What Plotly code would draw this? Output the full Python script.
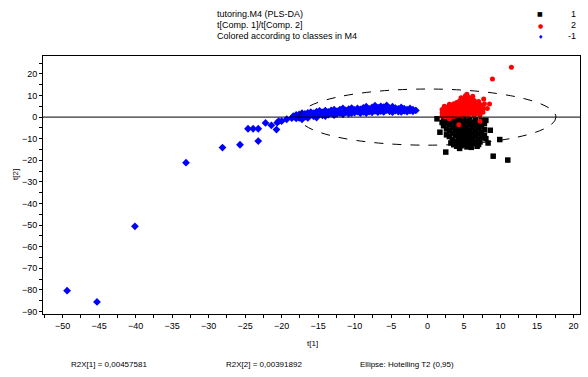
import plotly.graph_objects as go

# ---- data ----
blue_x = [-49.4, -45.3, -40.1, -33.1, -28.1, -25.7, -23.2, -24.6, -23.9, -23.2,
          -22.2, -21.4, -20.7, -20.4, -20.6, -19.3, -18.4, -18.6, -20.0, -18.0,
          -18.0, -18.0, -18.0, -17.6, -17.6, -17.2, -17.2, -17.2, -16.8, -16.8,
          -16.4, -16.4, -16.4, -16.0, -16.0, -15.6, -15.6, -15.2, -15.2, -15.2,
          -14.8, -14.8, -14.4, -14.4, -14.0, -14.0, -14.0, -13.6, -13.6, -13.2,
          -13.2, -12.8, -12.8, -12.8, -12.4, -12.4, -12.0, -12.0, -11.6, -11.6,
          -11.6, -11.2, -11.2, -10.8, -10.8, -10.4, -10.4, -10.4, -10.0, -10.0,
          -9.6, -9.6, -9.2, -9.2, -9.2, -8.8, -8.8, -8.4, -8.4, -8.4,
          -8.0, -8.0, -7.6, -7.6, -7.6, -7.2, -7.2, -6.8, -6.8, -6.8,
          -6.4, -6.4, -6.0, -6.0, -6.0, -5.6, -5.6, -5.2, -5.2, -4.8,
          -4.8, -4.8, -4.4, -4.4, -4.0, -4.0, -3.6, -3.6, -3.6, -3.2,
          -3.2, -2.8, -2.8, -2.4, -2.4, -2.0, -2.0, -1.6]
blue_y = [-80.4, -85.6, -50.6, -21.1, -14.1, -12.8, -11.1, -5.4, -5.4, -5.4,
          -2.7, -3.8, -5.8, -1.9, -2.6, -1.0, 0.4, -0.5, -1.9, 0.2,
          1.0, -0.6, 0.5, 1.2, -0.3, 0.5, 1.8, -1.0, 1.5, 0.1,
          2.0, 0.6, -0.4, 1.2, 2.3, 0.4, 1.8, 2.5, 1.0, -0.2,
          1.6, 2.9, 0.8, 2.2, 1.9, 3.0, 0.5, 2.4, 1.2, 3.1,
          1.7, 2.0, 0.9, 3.4, 2.7, 1.5, 1.9, 3.5, 2.6, 1.3,
          4.0, 2.2, 3.1, 1.6, 3.7, 2.8, 1.9, 4.2, 3.3, 2.1,
          2.5, 4.0, 3.6, 1.8, 2.9, 4.3, 2.4, 3.0, 1.9, 4.8,
          3.8, 2.6, 2.2, 4.5, 3.2, 5.3, 2.9, 3.6, 2.3, 4.4,
          2.8, 5.0, 3.9, 2.4, 4.6, 3.2, 5.4, 2.7, 4.1, 3.5,
          4.8, 2.3, 3.0, 4.2, 2.6, 3.8, 3.3, 4.5, 2.4, 2.9,
          3.9, 3.5, 2.5, 3.0, 4.0, 2.7, 3.4, 3.1]

red_x = [2.0, 2.0, 2.0, 2.4, 2.4, 2.4, 2.4, 2.8, 2.8, 2.8, 2.8,
         3.2, 3.2, 3.2, 3.2, 3.6, 3.6, 3.6, 3.6, 3.6,
         4.0, 4.0, 4.0, 4.0, 4.0, 4.4, 4.4, 4.4, 4.4, 4.4,
         4.8, 4.8, 4.8, 4.8, 4.8, 4.8, 5.2, 5.2, 5.2, 5.2, 5.2, 5.2,
         5.6, 5.6, 5.6, 5.6, 5.6, 5.6, 6.0, 6.0, 6.0, 6.0, 6.0,
         6.4, 6.4, 6.4, 6.4, 6.4, 6.8, 6.8, 6.8, 6.8,
         7.2, 7.2, 7.2, 7.2, 7.6, 7.6, 7.6,
         2.3, 3.0, 4.6, 5.4, 6.2, 7.0, 7.8, 8.2,
         11.5, 8.9, 8.5, 7.7, 4.3, 7.2, 3.0]
red_y = [0.5, 2.0, 3.5, 1.0, 2.8, 4.2, 0.2, 1.5, 3.3, 4.8, 0.4,
         0.8, 2.4, 4.0, 5.5, 1.2, 3.0, 4.6, 6.2, 0.3,
         2.0, 3.6, 5.3, 6.8, 0.6, 1.1, 2.7, 4.3, 6.0, 7.6,
         0.5, 2.2, 3.9, 5.5, 7.2, 8.7, 1.5, 3.2, 4.8, 6.5, 8.1, 9.9,
         0.8, 2.6, 4.2, 5.9, 7.5, 9.2, 1.7, 3.5, 5.0, 6.8, 8.4,
         0.9, 2.8, 4.5, 6.2, 7.7, 1.6, 3.4, 5.2, 6.6,
         1.0, 2.9, 4.6, 5.8, 2.2, 3.9, 5.0,
         5.0, 6.0, 9.0, 10.6, 9.6, 7.2, 6.2, 4.0,
         23.1, 17.6, 6.1, 8.4, -3.5, -1.9, -0.8]

black_x = [1.3, 1.7, 2.5, 2.2, 2.2, 2.6, 2.6, 2.6, 2.6,
           3.0, 3.0, 3.0, 3.0, 3.4, 3.4, 3.4, 3.4, 3.4,
           3.8, 3.8, 3.8, 3.8, 3.8, 4.2, 4.2, 4.2, 4.2, 4.2, 4.2,
           4.6, 4.6, 4.6, 4.6, 4.6, 4.6, 5.0, 5.0, 5.0, 5.0, 5.0, 5.0,
           5.4, 5.4, 5.4, 5.4, 5.4, 5.4, 5.8, 5.8, 5.8, 5.8, 5.8, 5.8,
           6.2, 6.2, 6.2, 6.2, 6.2, 6.6, 6.6, 6.6, 6.6, 6.6,
           7.0, 7.0, 7.0, 7.0, 7.0, 7.4, 7.4, 7.4, 7.4, 7.8, 7.8, 7.8,
           2.0, 3.2, 4.0, 6.0, 7.2, 6.8, 8.0, 4.4, 3.6, 5.2,
           8.6, 9.9, 9.0, 11.0, 8.0, 8.3]
black_y = [-0.8, -7.0, -16.2, -1.5, -4.0, -0.5, -2.8, -5.5, -8.2,
           -1.2, -3.6, -6.3, -9.0, -0.4, -2.2, -4.8, -7.4, -10.5,
           -1.5, -3.9, -6.0, -8.5, -11.4, -0.7, -2.9, -5.2, -7.6, -9.8, -12.2,
           -1.8, -4.3, -6.8, -9.1, -11.6, -13.3, -0.9, -3.2, -5.7, -8.2, -10.6, -12.8,
           -2.0, -4.6, -7.0, -9.5, -11.9, -13.8, -1.1, -3.5, -6.1, -8.6, -11.0, -13.0,
           -2.4, -4.9, -7.4, -9.9, -12.3, -1.3, -3.8, -6.4, -8.8, -11.5,
           -2.6, -5.1, -7.8, -10.4, -12.7, -1.5, -4.2, -6.9, -9.3, -3.0, -5.8, -8.4,
           -2.5, -12.0, -13.5, -14.0, -11.5, -13.5, -10.0, -14.5, -12.8, -9.0,
           -6.1, -10.4, -18.1, -19.9, -1.5, -12.0]

class_labels = ["1", "2", "-1"]
ellipse_a = 17.6   # Hotelling T2 (0.95) semi-axis along t[1]
ellipse_b = 13.0   # semi-axis along t[2]

title_lines = ["tutoring.M4 (PLS-DA)", "t[Comp. 1]/t[Comp. 2]",
               "Colored according to classes in M4"]
footer_texts = ["R2X[1] = 0,00457581", "R2X[2] = 0,00391892",
                "Ellipse: Hotelling T2 (0,95)"]

x_range = [-52.7, 20.9]
y_range = [-91.2, 28.3]

FONT = "Liberation Sans, Arial, sans-serif"

fig = go.Figure()
fig.add_trace(go.Scatter(x=black_x, y=black_y, mode="markers", name=class_labels[0],
                         marker=dict(symbol="square", size=5.5, color="#000000"),
                         showlegend=False))
fig.add_trace(go.Scatter(x=red_x, y=red_y, mode="markers", name=class_labels[1],
                         marker=dict(symbol="circle", size=5, color="#ff0000"),
                         showlegend=False))
fig.add_trace(go.Scatter(x=blue_x, y=blue_y, mode="markers", name=class_labels[2],
                         marker=dict(symbol="diamond", size=6, color="#0000ff"),
                         showlegend=False))

# zero line and ellipse
fig.add_shape(type="line", xref="paper", x0=0, x1=1, y0=0, y1=0,
              line=dict(color="black", width=1))
fig.add_shape(type="circle", x0=-ellipse_a, x1=ellipse_a, y0=-ellipse_b, y1=ellipse_b,
              line=dict(color="black", width=1, dash="dash"))

ax = dict(showgrid=False, zeroline=False, showline=True, linecolor="black",
          linewidth=1, mirror=True, ticks="outside", ticklen=3, tickcolor="black",
          tickfont=dict(family=FONT, size=9, color="black"))
fig.update_xaxes(range=x_range, dtick=5, tick0=0,
                 minor=dict(dtick=2.5, ticks="outside", ticklen=3, tickcolor="black"), **ax)
fig.update_yaxes(range=y_range, dtick=10, tick0=0,
                 minor=dict(dtick=5, ticks="outside", ticklen=3, tickcolor="black"), **ax)

W, H = 588, 377
L, R, T, B = 43, 8, 56, 63
pw, ph = W - L - R, H - T - B


def px(x):
    return (x - L) / pw


def py(y):
    return (H - B - y) / ph


ann = []
for i, t in enumerate(title_lines):
    ann.append(dict(x=px(215), y=py(14 + 11 * i), text=t, xanchor="left", yanchor="middle",
                    font=dict(family=FONT, size=9, color="black")))
sym = ["■", "●", "♦"]
cols = ["#000000", "#ff0000", "#0000ff"]
for i, lab in enumerate(class_labels):
    ann.append(dict(x=px(540), y=py(14 + 11 * i), text=sym[i], xanchor="center", yanchor="middle",
                    font=dict(family="DejaVu Sans", size=6, color=cols[i])))
    ann.append(dict(x=px(578), y=py(14 + 11 * i), text=lab, xanchor="right", yanchor="middle",
                    font=dict(family=FONT, size=9, color="black")))
ann.append(dict(x=px(312), y=py(343), text="t[1]", xanchor="center", yanchor="middle",
                font=dict(family=FONT, size=8, color="black")))
ann.append(dict(x=px(15), y=py(175), text="t[2]", xanchor="center", yanchor="middle",
                textangle=-90, font=dict(family=FONT, size=8, color="black")))
for xx, t in zip([69, 224, 358], footer_texts):
    ann.append(dict(x=px(xx), y=py(364), text=t, xanchor="left", yanchor="middle",
                    font=dict(family=FONT, size=8, color="black")))
for a in ann:
    a.update(xref="paper", yref="paper", showarrow=False)

fig.update_layout(width=W, height=H, margin=dict(l=L, r=R, t=T, b=B, pad=0),
                  plot_bgcolor="white", paper_bgcolor="white",
                  annotations=ann, showlegend=False)

fig.write_html("out.html", config={"displayModeBar": False},
               post_script="document.body.style.margin='0';")
